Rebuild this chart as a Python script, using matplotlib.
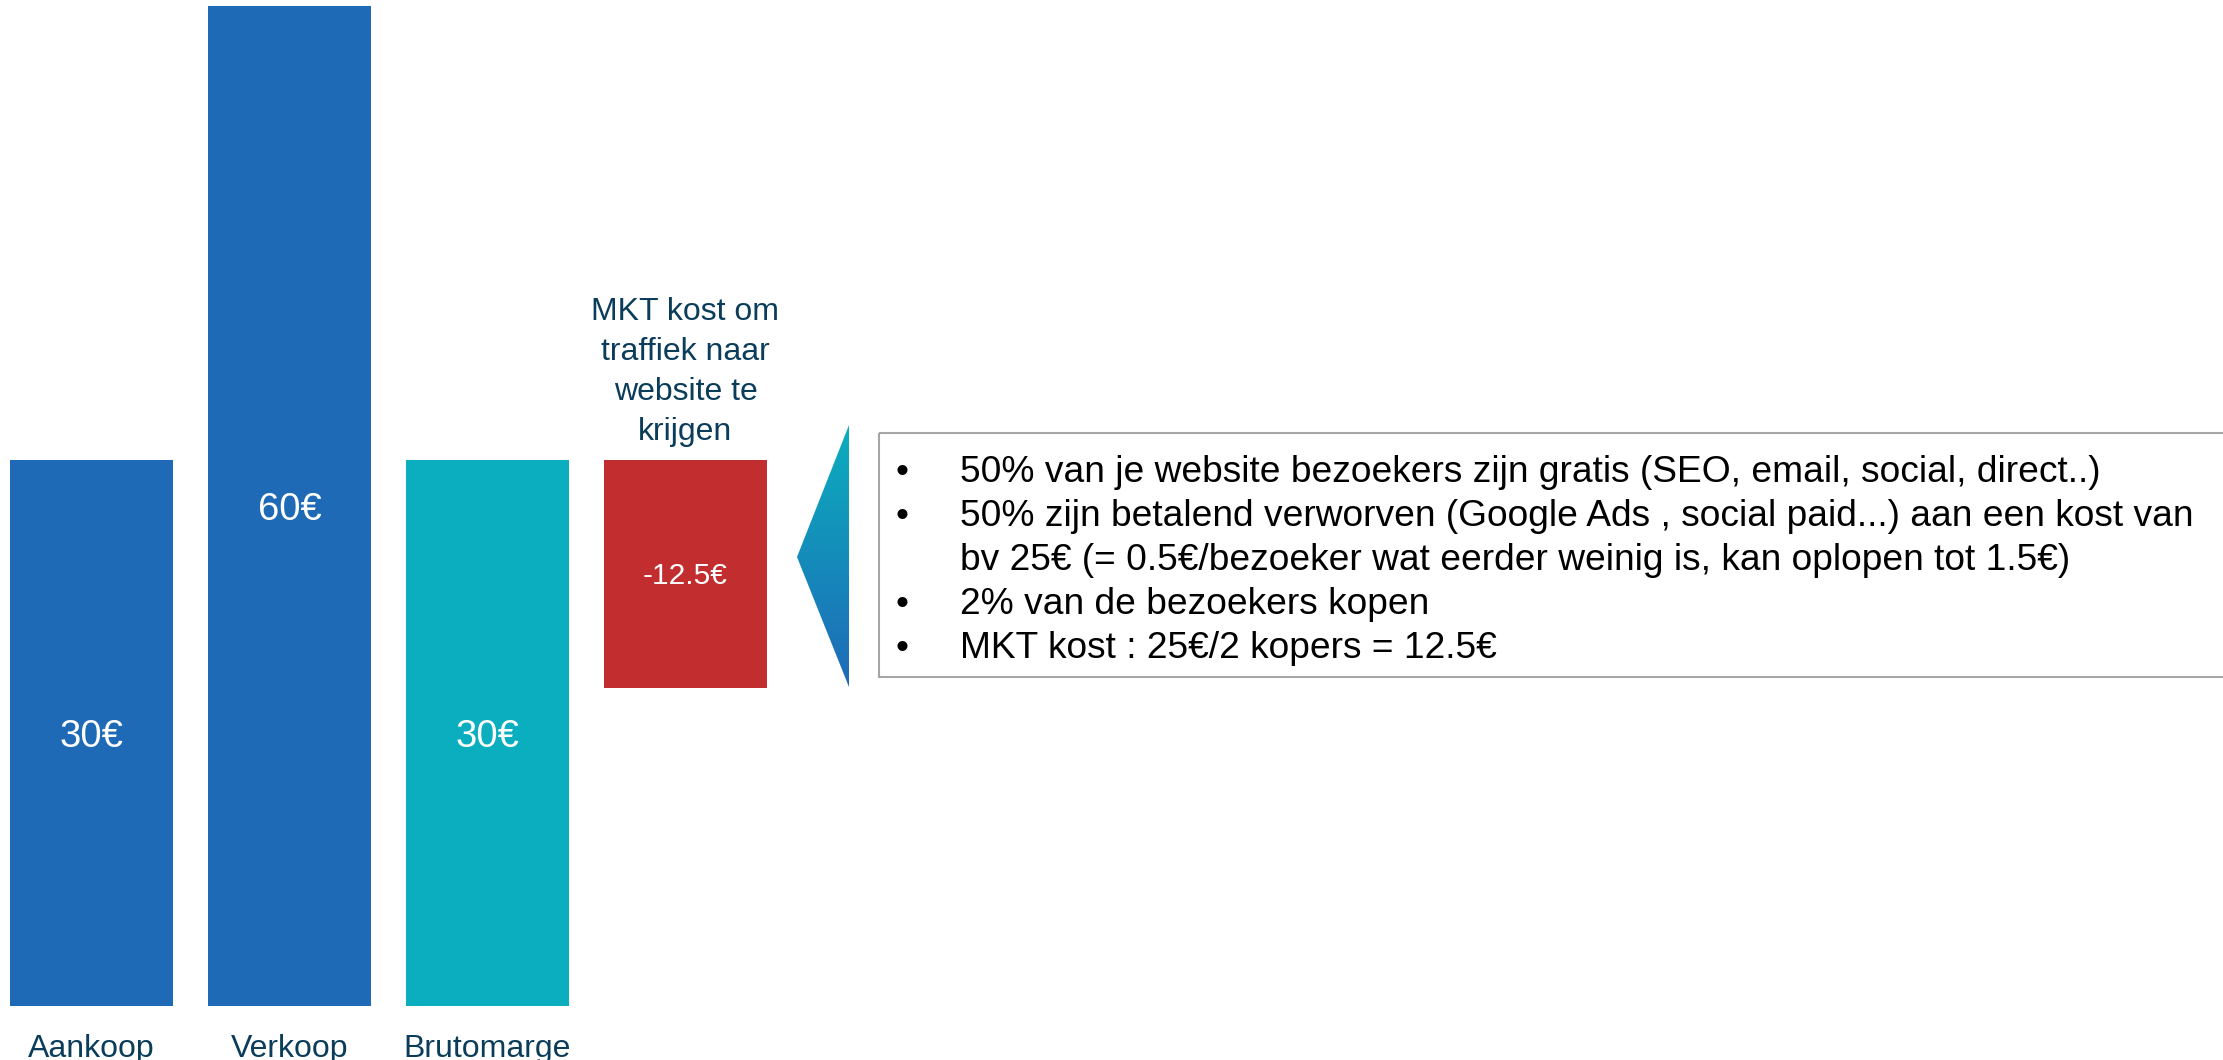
import numpy as np
import matplotlib.pyplot as plt
from matplotlib.patches import Polygon, Rectangle
from matplotlib.colors import LinearSegmentedColormap

plt.rcParams['font.family'] = ['Liberation Sans', 'DejaVu Sans']

# waterfall data (euro per sale)
categories = ['Aankoop', 'Verkoop', 'Brutomarge']
mkt_label = 'MKT kost om\ntraffiek naar\nwebsite te\nkrijgen'
values = [30, 60, 30, -12.5]
value_labels = ['30€', '60€', '30€', '-12.5€']
bar_colors = ['#1F6AB7', '#1F6AB7', '#0BAEBE', '#C22E30']

bullet_lines = [
    '50% van je website bezoekers zijn gratis (SEO, email, social, direct..)',
    '50% zijn betalend verworven (Google Ads , social paid...) aan een kost van',
    'bv 25€ (= 0.5€/bezoeker wat eerder weinig is, kan oplopen tot 1.5€)',
    '2% van de bezoekers kopen',
    'MKT kost : 25€/2 kopers = 12.5€',
]
has_bullet = [True, True, False, True, True]

label_color = '#0B3D5B'
W, H = 2223, 1060

fig = plt.figure(figsize=(W / 100, H / 100), dpi=100)

# bar chart area (pixel layout converted to figure fractions)
ax = fig.add_axes([0, (H - 1006) / H, 870 / W, 1000 / H])
x = np.arange(len(values))
bottoms = [0, 0, 0, values[2] + values[3]]
heights = [abs(v) for v in values]
ax.bar(x, heights, bottom=bottoms, width=163 / 198, color=bar_colors)
ax.set_xlim(-91.5 / 198, (870 - 91.5) / 198)
ymax = 1000 / 18.2
ax.set_ylim(0, ymax)
ax.axis('off')

# value labels centred in the visible part of each bar
for i, (b, h, lab) in enumerate(zip(bottoms, heights, value_labels)):
    yc = (b + min(b + h, ymax)) / 2
    fs = 21.5 if i == 3 else 27.5
    ax.annotate(lab, (i, yc), xytext=(0, -fs * 1.389 * 0.716 / 2),
                textcoords='offset pixels', ha='center', va='baseline',
                fontsize=fs, color='white')

# category names below the bars
for i, name in enumerate(categories):
    ax.annotate(name, (i, 0), xytext=(0, -51), textcoords='offset pixels',
                ha='center', va='baseline', fontsize=23, color=label_color,
                annotation_clip=False)

# label above the marketing cost bar (baseline of last line)
ax.annotate(mkt_label, (3, bottoms[3] + heights[3]), xytext=(0, 20),
            textcoords='offset pixels', ha='center', va='baseline',
            multialignment='center', fontsize=23, linespacing=1.43,
            color=label_color, annotation_clip=False)

# overlay in pixel coordinates for the arrow and text box
ov = fig.add_axes([0, 0, 1, 1])
grad = np.linspace(0, 1, 256).reshape(-1, 1)
cmap = LinearSegmentedColormap.from_list('tri', ['#0BAEBE', '#1F6AB7'])
im = ov.imshow(grad, cmap=cmap, extent=[797, 849, 687, 425],
               aspect='auto', origin='upper')
tri = Polygon([(849, 425), (849, 687), (797, 557)], closed=True,
              facecolor='none', edgecolor='none')
ov.add_patch(tri)
im.set_clip_path(tri)

ov.add_patch(Rectangle((879, 433), W + 20 - 879, 677 - 433, fill=False,
                       edgecolor='#A6A6A6', lw=1.5, clip_on=False))

fs_box = 26.7
for k, (line, bul) in enumerate(zip(bullet_lines, has_bullet)):
    yb = 482 + 44 * k
    if bul:
        ov.text(902, yb, '•', ha='center', va='baseline', fontsize=fs_box,
                color='black')
    ov.text(960, yb, line, ha='left', va='baseline', fontsize=fs_box,
            color='black')

ov.set_xlim(0, W)
ov.set_ylim(H, 0)
ov.axis('off')

fig.savefig('out.png', dpi=100)
